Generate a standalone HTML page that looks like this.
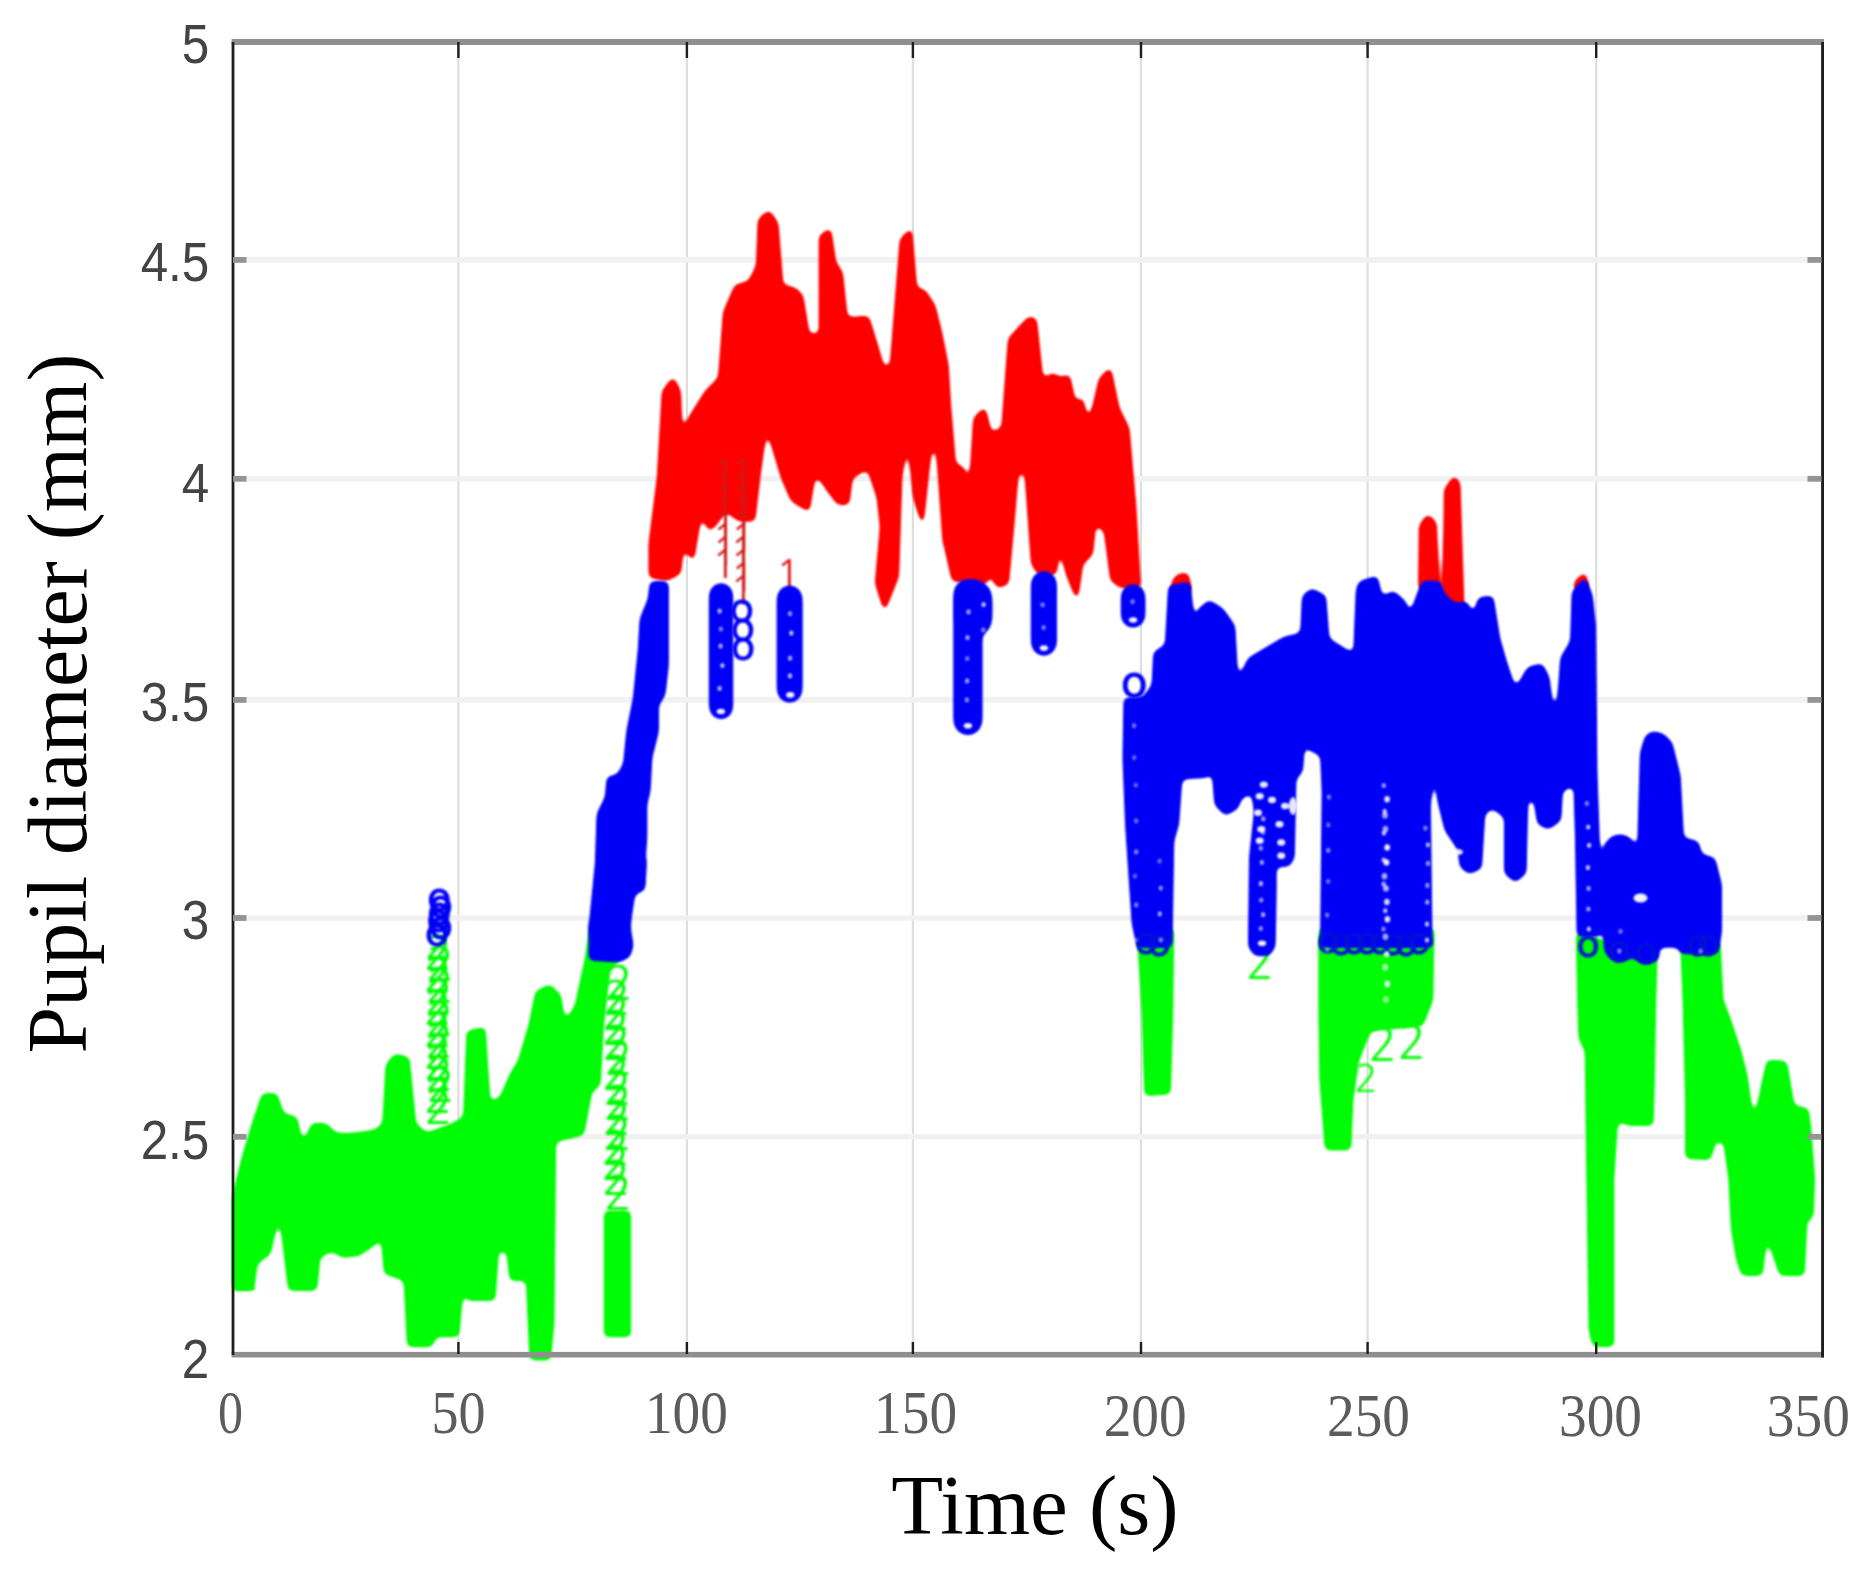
<!DOCTYPE html>
<html lang="en">
<head>
<meta charset="utf-8">
<title>Pupil diameter over time</title>
<style>
html,body{margin:0;padding:0;background:#ffffff;}
body{width:1869px;height:1574px;overflow:hidden;}
svg{display:block;}
</style>
</head>
<body>
<svg width="1869" height="1574" viewBox="0 0 1869 1574" role="img" aria-label="Pupil diameter (mm) versus time (s)">
<rect width="1869" height="1574" fill="#ffffff"/>
<defs>
<filter id="goo" x="-3%" y="-3%" width="106%" height="106%" color-interpolation-filters="sRGB">
<feGaussianBlur in="SourceGraphic" stdDeviation="3.2" result="b"/>
<feComponentTransfer in="b" result="t"><feFuncA type="linear" slope="9" intercept="-4"/></feComponentTransfer>
<feGaussianBlur in="t" stdDeviation="1.3"/>
</filter>
<filter id="soft" x="-3%" y="-3%" width="106%" height="106%" color-interpolation-filters="sRGB">
<feGaussianBlur in="SourceGraphic" stdDeviation="0.9"/>
</filter>
<filter id="soft2" x="-3%" y="-3%" width="106%" height="106%" color-interpolation-filters="sRGB">
<feGaussianBlur in="SourceGraphic" stdDeviation="0.6"/>
</filter>
</defs>
<g id="grid" filter="url(#soft2)">
<line x1="458.4" y1="42.0" x2="458.4" y2="1355.0" stroke="#dedede" stroke-width="2.2"/>
<line x1="686.9" y1="42.0" x2="686.9" y2="1355.0" stroke="#dedede" stroke-width="2.2"/>
<line x1="912.9" y1="42.0" x2="912.9" y2="1355.0" stroke="#dedede" stroke-width="2.2"/>
<line x1="1141.0" y1="42.0" x2="1141.0" y2="1355.0" stroke="#dedede" stroke-width="2.2"/>
<line x1="1367.6" y1="42.0" x2="1367.6" y2="1355.0" stroke="#dedede" stroke-width="2.2"/>
<line x1="1596.2" y1="42.0" x2="1596.2" y2="1355.0" stroke="#dedede" stroke-width="2.2"/>
<line x1="233.3" y1="1136.8" x2="1822.3" y2="1136.8" stroke="#f1f1f1" stroke-width="5.6"/>
<line x1="233.3" y1="918.0" x2="1822.3" y2="918.0" stroke="#f1f1f1" stroke-width="5.6"/>
<line x1="233.3" y1="699.9" x2="1822.3" y2="699.9" stroke="#f1f1f1" stroke-width="5.6"/>
<line x1="233.3" y1="478.8" x2="1822.3" y2="478.8" stroke="#f1f1f1" stroke-width="5.6"/>
<line x1="233.3" y1="259.9" x2="1822.3" y2="259.9" stroke="#f1f1f1" stroke-width="5.6"/>
</g>
<g id="series-red" filter="url(#goo)">
<polygon points="649.9,543.5 658.2,477.4 663.1,391.5 673.0,378.3 679.7,391.5 681.3,441.0 689.6,417.9 706.1,391.5 719.3,378.3 724.3,312.2 735.8,285.7 749.0,282.4 757.3,265.9 759.0,219.7 768.9,211.4 777.1,223.0 782.1,285.7 795.3,289.0 801.9,295.6 808.5,335.3 820.1,335.3 820.1,236.2 830.0,229.6 834.9,262.6 841.6,272.5 846.5,318.8 868.0,317.1 874.6,338.6 884.5,371.6 891.1,365.0 901.0,239.5 910.9,229.6 915.9,289.0 924.2,290.7 934.1,305.6 940.7,332.0 947.3,365.0 949.7,405.2 954.7,464.7 963.0,468.0 969.6,497.7 974.5,418.4 984.4,408.5 991.0,434.9 1002.6,428.3 1009.2,339.1 1029.0,317.6 1035.6,319.3 1042.3,382.1 1052.2,373.8 1060.4,378.8 1068.7,375.5 1075.3,405.2 1081.9,398.6 1088.5,428.3 1100.1,378.8 1110.0,368.9 1118.3,408.5 1128.2,428.3 1134.8,504.3 1139.7,586.9 1139.7,586.9 1121.6,586.9 1111.6,580.3 1105.0,530.8 1095.1,520.9 1091.8,553.9 1081.9,563.8 1076.9,598.5 1067.0,573.7 1058.8,537.4 1055.5,573.7 1039.0,573.7 1032.3,563.8 1025.7,471.3 1017.5,471.3 1012.5,530.8 1007.6,583.6 997.6,586.9 987.7,567.1 986.1,583.6 953.0,580.3 944.8,544.0 944.0,543.5 937.4,450.9 930.8,444.3 922.5,523.6 914.2,497.2 907.6,427.8 901.0,477.4 897.7,576.5 891.1,593.0 884.5,609.5 876.2,583.1 881.2,526.9 877.9,497.2 868.0,467.5 851.5,477.4 848.2,503.8 838.3,503.8 828.3,490.6 815.1,470.8 808.5,510.4 792.0,500.5 782.1,477.4 772.2,444.3 767.2,417.9 759.0,477.4 754.0,520.3 739.1,520.3 725.9,510.4 716.0,523.6 709.4,530.2 701.1,510.4 692.9,560.0 683.0,543.5 679.7,573.2 666.4,579.8 649.9,576.5" fill="#ff0000" stroke="#ff0000" stroke-width="3" stroke-linejoin="round" />
<polygon points="1419.5,588.7 1420.1,525.9 1427.7,515.3 1435.3,522.6 1437.6,588.7" fill="#ff0000" stroke="#ff0000" stroke-width="3" stroke-linejoin="round" />
<polygon points="1444.3,605.2 1445.2,489.6 1454.2,477.0 1459.1,483.0 1463.1,608.5" fill="#ff0000" stroke="#ff0000" stroke-width="3" stroke-linejoin="round" />
<polygon points="1574.1,588.7 1576.4,580.4 1584.7,573.8 1588.6,588.7" fill="#ff0000" stroke="#ff0000" stroke-width="3" stroke-linejoin="round" />
<polygon points="1171.1,591.4 1174.4,578.2 1187.6,574.9 1191.0,591.4" fill="#ff0000" stroke="#ff0000" stroke-width="3" stroke-linejoin="round" />
<polygon points="1172.8,588.6 1177.7,575.4 1186.0,573.7 1189.3,588.6" fill="#ff0000" stroke="#ff0000" stroke-width="3" stroke-linejoin="round" />
</g>
<g id="series-green" filter="url(#goo)">
<polygon points="233.2,1197.0 243.1,1157.4 253.0,1124.3 263.0,1094.6 276.2,1094.6 282.8,1114.4 296.0,1117.7 302.6,1147.5 312.5,1124.3 325.7,1124.3 335.6,1134.2 352.2,1134.2 375.3,1130.9 383.6,1124.3 386.9,1064.9 395.1,1054.9 408.3,1058.3 414.9,1124.3 426.5,1134.2 452.9,1124.3 464.5,1117.7 467.8,1031.8 484.3,1028.5 489.3,1104.5 500.9,1097.9 510.8,1074.8 519.0,1061.6 520.0,1058.3 529.9,1025.2 536.5,992.2 549.7,985.6 559.7,995.5 564.6,1025.2 576.2,1005.4 586.1,959.1 591.0,926.1 619.1,955.8 619.1,959.1 609.2,969.0 602.6,1025.2 599.3,1084.7 591.0,1091.3 582.8,1134.2 554.7,1140.9 553.0,1322.6 549.7,1358.9 529.9,1358.9 550.4,1358.9 530.6,1355.6 527.3,1279.6 510.8,1279.6 507.5,1249.9 497.6,1249.9 494.2,1299.5 467.8,1299.5 464.5,1263.1 457.9,1335.8 434.8,1335.8 431.5,1345.7 408.3,1345.7 405.0,1279.6 385.2,1273.0 381.9,1233.4 375.3,1243.3 358.8,1254.8 342.3,1256.5 332.3,1249.9 319.1,1256.5 315.8,1289.5 289.4,1289.5 279.5,1206.9 269.6,1253.2 256.3,1263.1 253.0,1289.5 233.2,1289.5" fill="#00fc04" stroke="#00fc04" stroke-width="3" stroke-linejoin="round" />
<polygon points="1138.1,929.6 1172.8,929.6 1171.8,1012.2 1169.5,1093.1 1145.7,1094.8 1143.0,1012.2" fill="#00fc04" stroke="#00fc04" stroke-width="3" stroke-linejoin="round" />
<polygon points="1319.8,929.6 1319.8,1012.2 1320.8,1079.9 1326.1,1149.0 1349.9,1149.0 1351.9,1100.1 1357.8,1060.1 1370.0,1030.0 1421.9,1025.1 1431.8,999.9 1433.1,929.6" fill="#00fc04" stroke="#00fc04" stroke-width="3" stroke-linejoin="round" />
<polygon points="1577.3,933.4 1578.6,1000.0 1579.8,1038.1 1586.2,1050.8 1587.4,1152.5 1590.0,1330.3 1593.8,1345.6 1612.9,1345.6 1612.9,1330.3 1612.9,1177.9 1616.7,1119.4 1629.4,1124.5 1652.2,1124.5 1653.5,1076.2 1654.8,1000.0 1656.1,956.8" fill="#00fc04" stroke="#00fc04" stroke-width="3" stroke-linejoin="round" />
<polygon points="1681.0,928.8 1684.0,1000.0 1686.5,1101.6 1686.5,1157.5 1709.4,1158.8 1715.8,1138.5 1724.7,1142.3 1729.7,1177.9 1732.3,1228.7 1737.4,1259.2 1742.5,1274.4 1761.5,1274.4 1766.6,1228.7 1772.9,1251.6 1780.6,1274.4 1803.4,1274.4 1806.0,1221.1 1812.3,1216.0 1813.6,1177.9 1809.8,1127.1 1807.3,1109.3 1793.3,1106.7 1788.2,1076.2 1785.7,1062.3 1767.9,1061.0 1762.8,1083.9 1757.7,1109.3 1752.6,1122.0 1746.3,1076.2 1739.9,1050.8 1729.7,1020.3 1722.1,1000.0 1720.1,961.9 1719.1,941.6" fill="#00fc04" stroke="#00fc04" stroke-width="3" stroke-linejoin="round" />
<polygon points="605.2,1211.9 629.7,1211.9 629.7,1335.8 605.2,1335.8" fill="#00fc04" stroke="#00fc04" stroke-width="3" stroke-linejoin="round" />
</g>
<g id="markers" filter="url(#soft)" font-family="NanumGothic, 'Liberation Sans', sans-serif" text-anchor="middle">
<text x="439.0" y="959.1" font-size="46" fill="#00fc04">2</text>
<text x="438.3" y="970.1" font-size="46" fill="#00fc04">2</text>
<text x="440.3" y="981.1" font-size="46" fill="#00fc04">2</text>
<text x="438.0" y="992.1" font-size="46" fill="#00fc04">2</text>
<text x="439.9" y="1003.1" font-size="46" fill="#00fc04">2</text>
<text x="439.2" y="1014.1" font-size="46" fill="#00fc04">2</text>
<text x="438.0" y="1025.1" font-size="46" fill="#00fc04">2</text>
<text x="439.8" y="1036.1" font-size="46" fill="#00fc04">2</text>
<text x="437.9" y="1047.1" font-size="46" fill="#00fc04">2</text>
<text x="439.5" y="1058.1" font-size="46" fill="#00fc04">2</text>
<text x="438.0" y="1069.1" font-size="46" fill="#00fc04">2</text>
<text x="438.1" y="1080.1" font-size="46" fill="#00fc04">2</text>
<text x="439.4" y="1091.1" font-size="46" fill="#00fc04">2</text>
<text x="441.0" y="1102.1" font-size="46" fill="#00fc04">2</text>
<text x="438.2" y="1113.1" font-size="46" fill="#00fc04">2</text>
<text x="438.6" y="1124.1" font-size="46" fill="#00fc04">2</text>
<text x="618.9" y="1000.4" font-size="46" fill="#00fc04">2</text>
<text x="616.6" y="1015.4" font-size="46" fill="#00fc04">2</text>
<text x="616.1" y="1030.4" font-size="46" fill="#00fc04">2</text>
<text x="615.9" y="1045.4" font-size="46" fill="#00fc04">2</text>
<text x="616.7" y="1060.4" font-size="46" fill="#00fc04">2</text>
<text x="618.7" y="1075.4" font-size="46" fill="#00fc04">2</text>
<text x="616.2" y="1090.4" font-size="46" fill="#00fc04">2</text>
<text x="617.8" y="1105.4" font-size="46" fill="#00fc04">2</text>
<text x="618.0" y="1120.4" font-size="46" fill="#00fc04">2</text>
<text x="617.0" y="1135.4" font-size="46" fill="#00fc04">2</text>
<text x="617.7" y="1150.4" font-size="46" fill="#00fc04">2</text>
<text x="615.7" y="1165.4" font-size="46" fill="#00fc04">2</text>
<text x="615.7" y="1180.4" font-size="46" fill="#00fc04">2</text>
<text x="616.3" y="1195.4" font-size="46" fill="#00fc04">2</text>
<text x="618.2" y="1210.4" font-size="46" fill="#00fc04">2</text>
<text x="724.2" y="487.3" font-size="40" fill="#d01818">1</text>
<text x="724.1" y="500.3" font-size="40" fill="#d01818">1</text>
<text x="724.3" y="513.3" font-size="40" fill="#d01818">1</text>
<text x="724.2" y="526.3" font-size="40" fill="#d01818">1</text>
<text x="724.1" y="539.3" font-size="40" fill="#d01818">1</text>
<text x="724.4" y="552.3" font-size="40" fill="#d01818">1</text>
<text x="724.4" y="565.3" font-size="40" fill="#d01818">1</text>
<text x="724.1" y="578.3" font-size="40" fill="#d01818">1</text>
<text x="742.5" y="487.3" font-size="40" fill="#d01818">1</text>
<text x="742.4" y="500.3" font-size="40" fill="#d01818">1</text>
<text x="742.7" y="513.3" font-size="40" fill="#d01818">1</text>
<text x="742.6" y="526.3" font-size="40" fill="#d01818">1</text>
<text x="742.3" y="539.3" font-size="40" fill="#d01818">1</text>
<text x="742.7" y="552.3" font-size="40" fill="#d01818">1</text>
<text x="742.2" y="565.3" font-size="40" fill="#d01818">1</text>
<text x="742.4" y="578.3" font-size="40" fill="#d01818">1</text>
<text x="742.6" y="591.3" font-size="40" fill="#d01818">1</text>
<text x="742.2" y="604.3" font-size="40" fill="#d01818">1</text>
<text x="788.0" y="588.1" font-size="40" fill="#e01010">1</text>
<text x="1383.0" y="1061.0" font-size="46" fill="#00fc04">2</text>
<text x="1412.0" y="1059.0" font-size="46" fill="#00fc04">2</text>
<text x="1366.0" y="1092.0" font-size="38" fill="#00fc04">2</text>
<text x="1260.3" y="978.5" font-size="46" fill="#00fc04">2</text>
<text x="245.3" y="1290.0" font-size="46" fill="#00fc04">2</text>
</g>
<g id="series-blue" filter="url(#goo)">
<polygon points="589.7,959.3 591.4,913.0 596.3,863.5 598.0,813.9 606.3,797.4 607.9,777.6 617.8,775.9 624.4,764.3 627.7,731.3 634.3,698.3 639.3,648.7 641.0,619.0 649.2,599.1 650.9,582.6 667.4,582.6 667.4,615.6 667.4,665.2 664.1,694.9 657.5,704.9 657.5,731.3 650.9,757.7 649.2,790.8 645.9,804.0 645.9,837.0 642.6,883.3 631.0,896.5 629.4,929.5 629.4,956.0 619.5,960.9" fill="#0000f6" stroke="#0000f6" stroke-width="3" stroke-linejoin="round" />
<polygon points="591.0,959.1 629.0,955.8 632.3,945.9 629.0,926.1 634.0,893.0 643.9,889.7 645.6,860.0 597.6,860.0 596.0,893.0 589.4,926.1" fill="#0000f6" stroke="#0000f6" stroke-width="3" stroke-linejoin="round" />
<polygon points="710.3,595.0 711.2,590.9 713.5,587.4 717.0,585.1 721.1,584.3 725.2,585.1 728.7,587.4 731.0,590.9 731.8,595.0 731.8,707.3 731.0,711.4 728.7,714.9 725.2,717.3 721.1,718.1 717.0,717.3 713.5,714.9 711.2,711.4 710.3,707.3" fill="#0000f6" stroke="#0000f6" stroke-width="3" stroke-linejoin="round" />
<polygon points="778.1,598.1 779.0,593.7 781.5,590.0 785.2,587.4 789.6,586.6 794.1,587.4 797.8,590.0 800.3,593.7 801.2,598.1 801.2,690.0 800.3,694.4 797.8,698.2 794.1,700.7 789.6,701.6 785.2,700.7 781.5,698.2 779.0,694.4 778.1,690.0" fill="#0000f6" stroke="#0000f6" stroke-width="3" stroke-linejoin="round" />
<polygon points="954.7,598.5 956.1,591.5 960.0,585.7 965.9,581.7 972.9,580.3 979.8,581.7 985.7,585.7 989.7,591.5 991.0,598.5 991.0,618.3 989.7,625.3 985.7,631.2 979.8,635.1 972.9,636.5 965.9,635.1 960.0,631.2 956.1,625.3 954.7,618.3" fill="#0000f6" stroke="#0000f6" stroke-width="3" stroke-linejoin="round" />
<polygon points="954.7,593.5 955.7,588.5 958.6,584.2 962.9,581.3 967.9,580.3 973.0,581.3 977.3,584.2 980.1,588.5 981.1,593.5 981.1,720.8 980.1,725.8 977.3,730.1 973.0,733.0 967.9,734.0 962.9,733.0 958.6,730.1 955.7,725.8 954.7,720.8" fill="#0000f6" stroke="#0000f6" stroke-width="3" stroke-linejoin="round" />
<polygon points="1032.3,583.6 1033.2,579.2 1035.7,575.5 1039.5,573.0 1043.9,572.1 1048.3,573.0 1052.1,575.5 1054.6,579.2 1055.5,583.6 1055.5,643.1 1054.6,647.5 1052.1,651.3 1048.3,653.8 1043.9,654.7 1039.5,653.8 1035.7,651.3 1033.2,647.5 1032.3,643.1" fill="#0000f6" stroke="#0000f6" stroke-width="3" stroke-linejoin="round" />
<polygon points="1122.2,596.2 1123.0,592.0 1125.4,588.5 1128.9,586.1 1133.1,585.3 1137.3,586.1 1140.8,588.5 1143.2,592.0 1144.0,596.2 1144.0,615.7 1143.2,619.9 1140.8,623.4 1137.3,625.8 1133.1,626.6 1128.9,625.8 1125.4,623.4 1123.0,619.9 1122.2,615.7" fill="#0000f6" stroke="#0000f6" stroke-width="3" stroke-linejoin="round" />
<polygon points="1124.9,698.8 1143.0,698.8 1153.0,685.6 1154.6,652.5 1166.2,645.9 1169.5,586.4 1189.3,583.1 1195.9,649.2 1199.2,609.6 1209.1,601.3 1222.3,609.6 1233.9,626.1 1237.2,685.6 1248.8,659.1 1265.3,649.2 1285.1,637.6 1301.6,634.3 1303.3,596.3 1311.6,589.7 1324.8,596.3 1328.1,639.3 1341.3,647.6 1354.5,655.8 1357.2,589.7 1360.0,582.1 1376.5,577.1 1381.5,598.6 1393.0,592.0 1404.6,601.9 1409.6,618.4 1417.8,595.3 1422.8,582.1 1439.3,582.1 1444.3,595.3 1455.8,605.2 1465.7,601.9 1474.0,618.4 1479.0,598.6 1492.2,596.9 1498.8,638.3 1505.4,661.4 1515.3,691.1 1528.5,668.0 1541.7,664.7 1548.3,677.9 1551.6,707.6 1558.3,704.3 1561.6,658.1 1571.5,641.6 1573.1,592.0 1584.7,578.8 1591.3,595.3 1594.6,625.0 1595.9,770.4 1598.2,836.5 1599.2,935.6 1578.1,935.6 1576.4,836.5 1574.8,783.6 1561.6,790.2 1559.9,820.0 1548.3,828.2 1538.4,823.3 1535.1,800.2 1526.9,796.9 1525.2,872.8 1515.3,881.1 1505.4,872.8 1505.4,816.7 1492.2,806.8 1483.9,813.4 1480.6,867.9 1469.0,872.8 1460.8,866.2 1459.1,849.7 1445.9,829.9 1439.3,803.5 1434.3,753.9 1429.4,803.5 1431.0,935.6 1432.2,946.6 1321.5,946.6 1323.1,791.3 1321.5,754.9 1308.3,748.3 1304.9,725.2 1301.6,771.5 1295.0,778.1 1293.4,857.4 1288.4,865.6 1275.2,865.6 1275.2,890.4 1274.2,946.6 1268.6,954.8 1255.4,954.8 1249.4,946.6 1250.4,857.4 1255.4,811.1 1252.1,791.3 1240.5,797.9 1237.2,807.8 1225.6,814.4 1215.7,804.5 1212.4,761.6 1207.5,776.4 1181.0,778.1 1177.7,824.3 1172.8,840.9 1171.1,946.6 1138.1,946.6 1133.1,923.5 1126.5,824.3 1123.9,758.3" fill="#0000f6" stroke="#0000f6" stroke-width="3" stroke-linejoin="round" />
<polygon points="1605.0,850.3 1606.1,844.7 1609.4,839.8 1614.2,836.6 1619.9,835.5 1625.6,836.6 1630.4,839.8 1633.6,844.7 1634.7,850.3 1634.7,946.2 1633.6,951.9 1630.4,956.7 1625.6,959.9 1619.9,961.0 1614.2,959.9 1609.4,956.7 1606.1,951.9 1605.0,946.2" fill="#0000f6" stroke="#0000f6" stroke-width="3" stroke-linejoin="round" />
<polygon points="1634.7,896.6 1635.6,894.1 1638.1,891.9 1641.9,890.5 1646.3,890.0 1650.7,890.5 1654.5,891.9 1657.0,894.1 1657.9,896.6 1657.9,956.1 1657.0,958.6 1654.5,960.7 1650.7,962.2 1646.3,962.7 1641.9,962.2 1638.1,960.7 1635.6,958.6 1634.7,956.1" fill="#0000f6" stroke="#0000f6" stroke-width="3" stroke-linejoin="round" />
<polygon points="1639.7,957.7 1639.0,832.2 1641.3,752.9 1646.3,736.3 1652.9,732.4 1662.8,734.7 1671.1,743.0 1679.3,776.0 1682.6,838.8 1697.5,842.1 1700.8,855.3 1714.0,858.6 1720.6,885.0 1720.6,931.3 1717.3,952.8 1681.0,952.8 1679.3,946.2 1657.9,946.2 1657.9,959.4" fill="#0000f6" stroke="#0000f6" stroke-width="3" stroke-linejoin="round" />
</g>
<g id="markers-blue" filter="url(#soft)" font-family="NanumGothic, 'Liberation Sans', sans-serif" text-anchor="middle" font-weight="bold">
<text x="1134.0" y="697.0" font-size="44" fill="#0000f6">o</text>
<text x="439.2" y="911.2" font-size="40" fill="#0000f6">o</text>
<text x="440.5" y="918.2" font-size="40" fill="#0000f6">o</text>
<text x="439.0" y="925.2" font-size="40" fill="#0000f6">o</text>
<text x="438.3" y="932.2" font-size="40" fill="#0000f6">o</text>
<text x="440.6" y="939.2" font-size="40" fill="#0000f6">o</text>
<text x="436.9" y="946.2" font-size="40" fill="#0000f6">o</text>
<text x="741.5" y="621.6" font-size="40" fill="#0000f6">o</text>
<text x="742.7" y="640.6" font-size="40" fill="#0000f6">o</text>
<text x="742.9" y="659.6" font-size="40" fill="#0000f6">o</text>
<text x="1146.0" y="954.3" font-size="38" fill="#0010d8">o</text>
<text x="1159.0" y="955.5" font-size="38" fill="#0010d8">o</text>
<text x="1328.0" y="953.3" font-size="38" fill="#0010d8">o</text>
<text x="1341.0" y="954.8" font-size="38" fill="#0010d8">o</text>
<text x="1354.0" y="954.4" font-size="38" fill="#0010d8">o</text>
<text x="1367.0" y="954.3" font-size="38" fill="#0010d8">o</text>
<text x="1380.0" y="953.8" font-size="38" fill="#0010d8">o</text>
<text x="1393.0" y="955.4" font-size="38" fill="#0010d8">o</text>
<text x="1406.0" y="955.8" font-size="38" fill="#0010d8">o</text>
<text x="1419.0" y="953.9" font-size="38" fill="#0010d8">o</text>
<text x="1588.0" y="957.0" font-size="38" fill="#0010d8">o</text>
<text x="1619.0" y="962.0" font-size="38" fill="#0010d8">o</text>
<text x="1646.0" y="964.0" font-size="38" fill="#0010d8">o</text>
<text x="1698.0" y="956.0" font-size="38" fill="#0010d8">o</text>
<text x="1708.0" y="956.0" font-size="38" fill="#0010d8">o</text>
</g>
<g id="specks" filter="url(#soft)" fill="#ffffff">
<ellipse cx="720.9" cy="711.5" rx="4.2" ry="2.8" fill-opacity="0.95"/>
<ellipse cx="719.6" cy="688.4" rx="2.2" ry="2.6" fill-opacity="0.70"/>
<ellipse cx="722.4" cy="665.5" rx="2.2" ry="2.6" fill-opacity="0.74"/>
<ellipse cx="720.6" cy="646.0" rx="2.2" ry="2.6" fill-opacity="0.69"/>
<ellipse cx="720.8" cy="629.0" rx="2.2" ry="2.6" fill-opacity="0.53"/>
<ellipse cx="719.6" cy="611.1" rx="2.2" ry="2.6" fill-opacity="0.73"/>
<ellipse cx="790.3" cy="694.9" rx="4.2" ry="2.8" fill-opacity="0.95"/>
<ellipse cx="790.0" cy="675.8" rx="2.2" ry="2.6" fill-opacity="0.76"/>
<ellipse cx="790.1" cy="658.2" rx="2.2" ry="2.6" fill-opacity="0.66"/>
<ellipse cx="791.3" cy="633.1" rx="2.2" ry="2.6" fill-opacity="0.76"/>
<ellipse cx="790.0" cy="613.7" rx="2.2" ry="2.6" fill-opacity="0.59"/>
<ellipse cx="967.9" cy="725.7" rx="4.2" ry="2.8" fill-opacity="0.95"/>
<ellipse cx="966.9" cy="699.9" rx="2.2" ry="2.6" fill-opacity="0.54"/>
<ellipse cx="967.1" cy="680.9" rx="2.2" ry="2.6" fill-opacity="0.64"/>
<ellipse cx="967.2" cy="658.5" rx="2.2" ry="2.6" fill-opacity="0.48"/>
<ellipse cx="967.5" cy="637.7" rx="2.2" ry="2.6" fill-opacity="0.66"/>
<ellipse cx="968.5" cy="611.9" rx="2.2" ry="2.6" fill-opacity="0.64"/>
<ellipse cx="983.3" cy="629.9" rx="2.2" ry="2.6" fill-opacity="0.50"/>
<ellipse cx="983.6" cy="604.6" rx="2.2" ry="2.6" fill-opacity="0.76"/>
<ellipse cx="1043.9" cy="648.1" rx="4.2" ry="2.8" fill-opacity="0.95"/>
<ellipse cx="1043.6" cy="627.6" rx="2.2" ry="2.6" fill-opacity="0.51"/>
<ellipse cx="1042.6" cy="604.8" rx="2.2" ry="2.6" fill-opacity="0.50"/>
<ellipse cx="1133.1" cy="620.0" rx="4.2" ry="2.8" fill-opacity="0.95"/>
<ellipse cx="1132.6" cy="601.6" rx="2.2" ry="2.6" fill-opacity="0.50"/>
<ellipse cx="1262.0" cy="943.3" rx="4.2" ry="2.8" fill-opacity="0.95"/>
<ellipse cx="1260.8" cy="928.5" rx="2.2" ry="2.6" fill-opacity="0.60"/>
<ellipse cx="1263.1" cy="914.7" rx="2.2" ry="2.6" fill-opacity="0.68"/>
<ellipse cx="1261.2" cy="900.0" rx="2.2" ry="2.6" fill-opacity="0.59"/>
<ellipse cx="1260.9" cy="883.6" rx="2.2" ry="2.6" fill-opacity="0.75"/>
<ellipse cx="1261.9" cy="862.4" rx="2.2" ry="2.6" fill-opacity="0.63"/>
<ellipse cx="1260.8" cy="848.2" rx="2.2" ry="2.6" fill-opacity="0.59"/>
<ellipse cx="1263.0" cy="832.5" rx="2.2" ry="2.6" fill-opacity="0.53"/>
<ellipse cx="1263.3" cy="818.8" rx="2.2" ry="2.6" fill-opacity="0.65"/>
<ellipse cx="1386.0" cy="999.5" rx="2.8" ry="3.2" fill-opacity="0.58"/>
<ellipse cx="1387.3" cy="983.9" rx="2.8" ry="3.2" fill-opacity="0.90"/>
<ellipse cx="1385.2" cy="967.2" rx="2.8" ry="3.2" fill-opacity="0.71"/>
<ellipse cx="1386.7" cy="954.1" rx="2.8" ry="3.2" fill-opacity="0.77"/>
<ellipse cx="1385.4" cy="936.8" rx="2.8" ry="3.2" fill-opacity="0.65"/>
<ellipse cx="1387.4" cy="919.3" rx="2.8" ry="3.2" fill-opacity="0.89"/>
<ellipse cx="1386.9" cy="901.9" rx="2.8" ry="3.2" fill-opacity="0.85"/>
<ellipse cx="1386.0" cy="888.4" rx="2.8" ry="3.2" fill-opacity="0.71"/>
<ellipse cx="1384.5" cy="876.2" rx="2.8" ry="3.2" fill-opacity="0.68"/>
<ellipse cx="1386.5" cy="862.4" rx="2.8" ry="3.2" fill-opacity="0.93"/>
<ellipse cx="1387.2" cy="847.4" rx="2.8" ry="3.2" fill-opacity="0.95"/>
<ellipse cx="1385.5" cy="828.9" rx="2.8" ry="3.2" fill-opacity="0.65"/>
<ellipse cx="1385.0" cy="815.4" rx="2.8" ry="3.2" fill-opacity="0.65"/>
<ellipse cx="1387.1" cy="799.2" rx="2.8" ry="3.2" fill-opacity="0.89"/>
<ellipse cx="1427.0" cy="940.0" rx="2.2" ry="2.6" fill-opacity="0.74"/>
<ellipse cx="1427.0" cy="924.1" rx="2.2" ry="2.6" fill-opacity="0.77"/>
<ellipse cx="1427.3" cy="902.2" rx="2.2" ry="2.6" fill-opacity="0.63"/>
<ellipse cx="1427.4" cy="885.4" rx="2.2" ry="2.6" fill-opacity="0.59"/>
<ellipse cx="1428.0" cy="863.4" rx="2.2" ry="2.6" fill-opacity="0.61"/>
<ellipse cx="1427.9" cy="844.8" rx="2.2" ry="2.6" fill-opacity="0.71"/>
<ellipse cx="1425.4" cy="828.1" rx="2.2" ry="2.6" fill-opacity="0.53"/>
<ellipse cx="1135.7" cy="940.0" rx="2.2" ry="2.6" fill-opacity="0.40"/>
<ellipse cx="1136.2" cy="904.8" rx="2.2" ry="2.6" fill-opacity="0.52"/>
<ellipse cx="1134.9" cy="876.1" rx="2.2" ry="2.6" fill-opacity="0.39"/>
<ellipse cx="1136.2" cy="851.9" rx="2.2" ry="2.6" fill-opacity="0.52"/>
<ellipse cx="1136.1" cy="820.8" rx="2.2" ry="2.6" fill-opacity="0.46"/>
<ellipse cx="1135.8" cy="785.0" rx="2.2" ry="2.6" fill-opacity="0.41"/>
<ellipse cx="1134.2" cy="757.6" rx="2.2" ry="2.6" fill-opacity="0.42"/>
<ellipse cx="1134.1" cy="725.7" rx="2.2" ry="2.6" fill-opacity="0.46"/>
<ellipse cx="1160.8" cy="940.0" rx="2.2" ry="2.6" fill-opacity="0.52"/>
<ellipse cx="1159.8" cy="913.8" rx="2.2" ry="2.6" fill-opacity="0.67"/>
<ellipse cx="1160.8" cy="888.1" rx="2.2" ry="2.6" fill-opacity="0.56"/>
<ellipse cx="1159.6" cy="861.1" rx="2.2" ry="2.6" fill-opacity="0.43"/>
<ellipse cx="1327.1" cy="949.9" rx="2.2" ry="2.6" fill-opacity="0.36"/>
<ellipse cx="1327.1" cy="915.1" rx="2.2" ry="2.6" fill-opacity="0.47"/>
<ellipse cx="1328.2" cy="881.3" rx="2.2" ry="2.6" fill-opacity="0.44"/>
<ellipse cx="1328.2" cy="850.3" rx="2.2" ry="2.6" fill-opacity="0.55"/>
<ellipse cx="1328.3" cy="824.9" rx="2.2" ry="2.6" fill-opacity="0.42"/>
<ellipse cx="1328.9" cy="797.1" rx="2.2" ry="2.6" fill-opacity="0.48"/>
<ellipse cx="1588.8" cy="929.0" rx="2.2" ry="2.6" fill-opacity="0.77"/>
<ellipse cx="1588.3" cy="909.0" rx="2.2" ry="2.6" fill-opacity="0.64"/>
<ellipse cx="1588.6" cy="888.4" rx="2.2" ry="2.6" fill-opacity="0.62"/>
<ellipse cx="1587.9" cy="867.6" rx="2.2" ry="2.6" fill-opacity="0.78"/>
<ellipse cx="1589.1" cy="845.3" rx="2.2" ry="2.6" fill-opacity="0.78"/>
<ellipse cx="1588.2" cy="827.0" rx="2.2" ry="2.6" fill-opacity="0.78"/>
<ellipse cx="1586.9" cy="803.4" rx="2.2" ry="2.6" fill-opacity="0.52"/>
<ellipse cx="1383.5" cy="929.0" rx="2.2" ry="2.6" fill-opacity="0.56"/>
<ellipse cx="1385.3" cy="910.7" rx="2.2" ry="2.6" fill-opacity="0.73"/>
<ellipse cx="1383.7" cy="884.2" rx="2.2" ry="2.6" fill-opacity="0.71"/>
<ellipse cx="1383.7" cy="860.1" rx="2.2" ry="2.6" fill-opacity="0.76"/>
<ellipse cx="1383.9" cy="832.9" rx="2.2" ry="2.6" fill-opacity="0.78"/>
<ellipse cx="1384.7" cy="811.4" rx="2.2" ry="2.6" fill-opacity="0.80"/>
<ellipse cx="1383.8" cy="785.5" rx="2.2" ry="2.6" fill-opacity="0.62"/>
<ellipse cx="1619.4" cy="951.1" rx="2.2" ry="2.6" fill-opacity="0.54"/>
<ellipse cx="1620.5" cy="931.3" rx="2.2" ry="2.6" fill-opacity="0.49"/>
<ellipse cx="1700.6" cy="951.1" rx="2.2" ry="2.6" fill-opacity="0.49"/>
<ellipse cx="1263.8" cy="784.6" rx="4.0" ry="3.2" fill-opacity="0.92"/>
<ellipse cx="1259.7" cy="796.2" rx="4.0" ry="3.2" fill-opacity="0.92"/>
<ellipse cx="1258.0" cy="812.7" rx="4.0" ry="3.2" fill-opacity="0.92"/>
<ellipse cx="1261.3" cy="829.3" rx="4.0" ry="3.2" fill-opacity="0.92"/>
<ellipse cx="1259.7" cy="840.8" rx="4.0" ry="3.2" fill-opacity="0.92"/>
<ellipse cx="1279.5" cy="824.3" rx="4.0" ry="3.2" fill-opacity="0.92"/>
<ellipse cx="1281.2" cy="842.5" rx="4.0" ry="3.2" fill-opacity="0.92"/>
<ellipse cx="1281.2" cy="855.7" rx="4.0" ry="3.2" fill-opacity="0.92"/>
<ellipse cx="1272.0" cy="800.0" rx="4.0" ry="3.2" fill-opacity="0.92"/>
<ellipse cx="1285.0" cy="806.0" rx="4.0" ry="3.2" fill-opacity="0.92"/>
<ellipse cx="1640.5" cy="898.0" rx="7.0" ry="4.5" fill-opacity="0.95"/>
<ellipse cx="1458.0" cy="852.0" rx="5.0" ry="3.0" fill-opacity="0.90"/>
<ellipse cx="1293.0" cy="806.0" rx="4.0" ry="9.0" fill-opacity="0.90"/>
</g>
<g id="frame" filter="url(#soft2)">
<rect x="231.6" y="39.0" width="1592.4" height="6" fill="#8f8f8f"/>
<rect x="231.6" y="1351.9" width="1592.4" height="5.6" fill="#8f8f8f"/>
<rect x="231.6" y="42.0" width="2.8" height="1313.0" fill="#1e1e1e"/>
<rect x="1821.1" y="42.0" width="2.9" height="1315.5" fill="#1e1e1e"/>
<rect x="457.2" y="42.0" width="2.4" height="16" fill="#1e1e1e"/>
<rect x="457.2" y="1342.0" width="2.4" height="12" fill="#1e1e1e"/>
<rect x="685.7" y="42.0" width="2.4" height="16" fill="#1e1e1e"/>
<rect x="685.7" y="1342.0" width="2.4" height="12" fill="#1e1e1e"/>
<rect x="911.7" y="42.0" width="2.4" height="16" fill="#1e1e1e"/>
<rect x="911.7" y="1342.0" width="2.4" height="12" fill="#1e1e1e"/>
<rect x="1139.8" y="42.0" width="2.4" height="16" fill="#1e1e1e"/>
<rect x="1139.8" y="1342.0" width="2.4" height="12" fill="#1e1e1e"/>
<rect x="1366.4" y="42.0" width="2.4" height="16" fill="#1e1e1e"/>
<rect x="1366.4" y="1342.0" width="2.4" height="12" fill="#1e1e1e"/>
<rect x="1595.0" y="42.0" width="2.4" height="16" fill="#1e1e1e"/>
<rect x="1595.0" y="1342.0" width="2.4" height="12" fill="#1e1e1e"/>
<rect x="233.0" y="1133.9" width="13.5" height="5.8" fill="#949494"/>
<rect x="1807.5" y="1133.9" width="14" height="5.8" fill="#949494"/>
<rect x="233.0" y="915.1" width="13.5" height="5.8" fill="#949494"/>
<rect x="1807.5" y="915.1" width="14" height="5.8" fill="#949494"/>
<rect x="233.0" y="697.0" width="13.5" height="5.8" fill="#949494"/>
<rect x="1807.5" y="697.0" width="14" height="5.8" fill="#949494"/>
<rect x="233.0" y="475.9" width="13.5" height="5.8" fill="#949494"/>
<rect x="1807.5" y="475.9" width="14" height="5.8" fill="#949494"/>
<rect x="233.0" y="257.0" width="13.5" height="5.8" fill="#949494"/>
<rect x="1807.5" y="257.0" width="14" height="5.8" fill="#949494"/>
</g>
<g id="yticks" filter="url(#soft2)" font-family="'Liberation Sans', sans-serif" font-size="55.5" fill="#444444" text-anchor="end">
<text transform="translate(209.3,1378.3) scale(0.89,1)">2</text>
<text transform="translate(209.3,1158.8) scale(0.89,1)">2.5</text>
<text transform="translate(209.3,939.0) scale(0.89,1)">3</text>
<text transform="translate(209.3,720.8) scale(0.89,1)">3.5</text>
<text transform="translate(209.3,502.3) scale(0.89,1)">4</text>
<text transform="translate(209.3,280.7) scale(0.89,1)">4.5</text>
<text transform="translate(209.3,62.5) scale(0.89,1)">5</text>
</g>
<g id="xticks" filter="url(#soft2)" font-family="'Liberation Serif', serif" font-size="61.5" fill="#5c5c5c" text-anchor="middle">
<text x="230.5" y="1432.5" textLength="25" lengthAdjust="spacingAndGlyphs">0</text>
<text x="458.5" y="1432.5" textLength="54" lengthAdjust="spacingAndGlyphs">50</text>
<text x="686.4" y="1432.5" textLength="83" lengthAdjust="spacingAndGlyphs">100</text>
<text x="915.6" y="1432.5" textLength="83" lengthAdjust="spacingAndGlyphs">150</text>
<text x="1145.2" y="1435.5" textLength="83" lengthAdjust="spacingAndGlyphs">200</text>
<text x="1368.5" y="1435.5" textLength="83" lengthAdjust="spacingAndGlyphs">250</text>
<text x="1600.5" y="1435.5" textLength="83" lengthAdjust="spacingAndGlyphs">300</text>
<text x="1808.3" y="1435.5" textLength="83" lengthAdjust="spacingAndGlyphs">350</text>
</g>
<g id="labels" font-family="'Liberation Serif', serif" fill="#000000">
<text x="1035" y="1534.3" font-size="85" text-anchor="middle">Time (s)</text>
<text transform="translate(86,703.5) rotate(-90)" font-size="84" text-anchor="middle">Pupil diameter (mm)</text>
</g>
</svg>
</body>
</html>
